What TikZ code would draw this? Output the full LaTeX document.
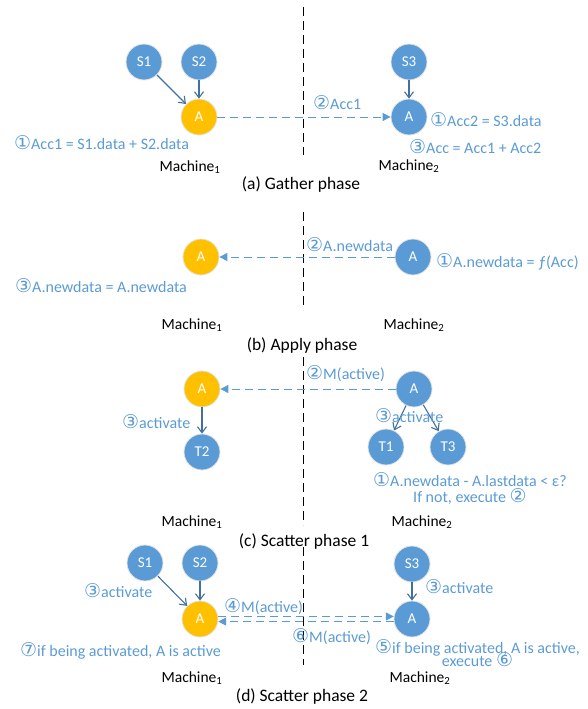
\documentclass[tikz,border=0pt]{standalone}
\usepackage{fontspec}
\setmainfont{Carlito}
\newfontfamily\dejavu{DejaVu Sans}
\usetikzlibrary{arrows.meta}
\definecolor{nblue}{HTML}{5B9BD5}
\definecolor{norange}{HTML}{FFC000}
\definecolor{dblue}{HTML}{41719C}
\definecolor{lblue}{HTML}{5B9BD5}
\newcommand\cn[1]{{\dejavu\fontsize{19}{20}\selectfont #1}}
\tikzset{
  vtx/.style={circle, minimum size=36pt, inner sep=0pt, draw=white!78!gray, line width=0.8pt, text=white, font=\fontsize{15}{17}\selectfont},
  bnode/.style={vtx, fill=nblue},
  onode/.style={vtx, fill=norange},
  lab/.style={text=lblue, font=\fontsize{16}{18}\selectfont, inner sep=0pt, anchor=west},
  edgearr/.style={draw=dblue, line width=1.1pt, -{Straight Barb[length=6pt,width=9pt]}},
  msg/.style={draw=nblue, dash pattern=on 8pt off 5pt, line width=1pt, -{Triangle[length=8pt,width=8pt]}},
  sep/.style={black, dash pattern=on 9pt off 5pt, line width=0.9pt},
  mach/.style={font=\fontsize{15.5}{17}\selectfont, inner sep=0pt},
  captxt/.style={font=\fontsize{17.5}{20}\selectfont, inner sep=0pt}
}
\begin{document}
\begin{tikzpicture}[x=1pt,y=-1pt]
\useasboundingbox (0,0) rectangle (588,709);
% ---------------- (a) Gather phase
\coordinate (aT) at (303,7); \coordinate (aB) at (303,155);
\draw[sep] (aT) -- (aB);
\node[bnode] (aS1) at (144,62) {S1};
\node[bnode] (aS2) at (199,62) {S2};
\node[onode] (aA1) at (199,117) {A};
\node[bnode] (aS3) at (409,62) {S3};
\node[bnode] (aA2) at (409,117) {A};
\draw[edgearr] (aS1) -- (aA1);
\draw[edgearr] (aS2) -- (aA1);
\draw[edgearr] (aS3) -- (aA2);
\draw[msg] (aA1) -- (aA2);
\node[lab] (aL1) at (14,143) {\cn{①}Acc1 = S1.data + S2.data};
\node[lab] (aL2) at (313,103) {\cn{②}Acc1};
\node[lab] (aL3) at (430,120) {\cn{①}Acc2 = S3.data};
\node[lab] (aL4) at (409,147) {\cn{③}Acc = Acc1 + Acc2};
\node[mach] (aM1) at (190,167) {Machine\textsubscript{1}};
\node[mach] (aM2) at (409,166) {Machine\textsubscript{2}};
\node[captxt] (aC) at (301,185) {(a) Gather phase};
% ---------------- (b) Apply phase
\coordinate (bT) at (303,212); \coordinate (bB) at (303,310);
\draw[sep] (bT) -- (bB);
\node[onode] (bA1) at (201,257) {A};
\node[bnode] (bA2) at (413,257) {A};
\draw[msg] (bA2) -- (bA1);
\node[lab] (bL1) at (306,245) {\cn{②}A.newdata};
\node[lab] (bL2) at (436,262) {\cn{①}A.newdata = ƒ(Acc)};
\node[lab] (bL3) at (15,286) {\cn{③}A.newdata = A.newdata};
\node[mach] (bM1) at (192,325) {Machine\textsubscript{1}};
\node[mach] (bM2) at (414,325) {Machine\textsubscript{2}};
\node[captxt] (bC) at (302,346) {(b) Apply phase};
% ---------------- (c) Scatter phase 1
\coordinate (cT) at (303,357); \coordinate (cB) at (303,525);
\draw[sep] (cT) -- (cB);
\node[onode] (cA1) at (202,389) {A};
\node[bnode] (cT2) at (202,452) {T2};
\node[bnode] (cA2) at (414,389) {A};
\node[bnode] (cT1) at (386,447) {T1};
\node[bnode] (cT3) at (448,447) {T3};
\draw[edgearr] (cA1) -- (cT2);
\draw[edgearr] (cA2) -- (cT1);
\draw[edgearr] (cA2) -- (cT3);
\draw[msg] (cA2) -- (cA1);
\node[lab] (cL1) at (306,374) {\cn{②}M(active)};
\node[lab] (cL2) at (122,422) {\cn{③}activate};
\node[lab] (cL3) at (375,416) {\cn{③}activate};
\node[lab, align=center, anchor=north west] (cL4) at (373,472)
  {\cn{①}A.newdata - A.lastdata < ε?\\[-2pt]If not, execute \cn{②}};
\node[mach] (cM1) at (192,522) {Machine\textsubscript{1}};
\node[mach] (cM2) at (422,522) {Machine\textsubscript{2}};
\node[captxt] (cC) at (304,542) {(c) Scatter phase 1};
% ---------------- (d) Scatter phase 2
\coordinate (dT) at (303,547); \coordinate (dB) at (303,665);
\draw[sep] (dT) -- (dB);
\node[bnode] (dS1) at (145,563) {S1};
\node[bnode] (dS2) at (200,563) {S2};
\node[onode] (dA1) at (200,619) {A};
\node[bnode] (dS3) at (412,564) {S3};
\node[bnode] (dA2) at (412,619) {A};
\draw[edgearr] (dS1) -- (dA1);
\draw[edgearr] (dS2) -- (dA1);
\draw[edgearr] (dS3) -- (dA2);
\draw[msg] (dA1.8) -- (dA2.172);
\draw[msg] (dA2.188) -- (dA1.352);
\node[lab] (dL1) at (224,607) {\cn{④}M(active)};
\node[lab] (dL2) at (292,637) {\cn{⑥}M(active)};
\node[lab] (dL3) at (84,591) {\cn{③}activate};
\node[lab] (dL4) at (425,587) {\cn{③}activate};
\node[lab] (dL5) at (20,651) {\cn{⑦}if being activated, A is active};
\node[lab, align=center, anchor=north west] (dL6) at (375,639)
  {\cn{⑤}if being activated, A is active,\\[-5pt]execute \cn{⑥}};
\node[mach] (dM1) at (192,678) {Machine\textsubscript{1}};
\node[mach] (dM2) at (420,678) {Machine\textsubscript{2}};
\node[captxt] (dC) at (302,697) {(d) Scatter phase 2};
\end{tikzpicture}
\end{document}
